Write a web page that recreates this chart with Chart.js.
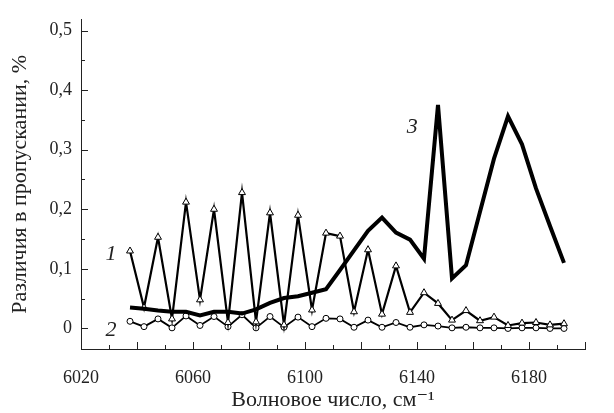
<!DOCTYPE html>
<html>
<head>
<meta charset="utf-8">
<script src="https://cdn.jsdelivr.net/npm/chart.js@4.4.1/dist/chart.umd.min.js"></script>
<style>
  html, body { margin: 0; padding: 0; background: #fff; }
  #wrap { width: 614px; height: 413px; }
</style>
</head>
<body>
<div id="wrap"><canvas id="transmissionChart" width="614" height="413"></canvas></div>
<script>
// wavenumber of every measured point, cm^-1
const wavenumbers = [
  6037.5, 6042.5, 6047.5, 6052.5, 6057.5, 6062.5, 6067.5, 6072.5,
  6077.5, 6082.5, 6087.5, 6092.5, 6097.5, 6102.5, 6107.5, 6112.5,
  6117.5, 6122.5, 6127.5, 6132.5, 6137.5, 6142.5, 6147.5, 6152.5,
  6157.5, 6162.5, 6167.5, 6172.5, 6177.5, 6182.5, 6187.5, 6192.5,
];

// curve 1 (triangles)
const curve1 = [
  0.130, 0.035, 0.153, 0.016, 0.212, 0.048, 0.200, 0.010,
  0.228, 0.011, 0.194, 0.006, 0.190, 0.031, 0.160, 0.155,
  0.028, 0.132, 0.024, 0.105, 0.027, 0.060, 0.042, 0.014,
  0.030, 0.013, 0.019, 0.005, 0.009, 0.010, 0.006, 0.008,
];

// curve 2 (circles)
const curve2 = [
  0.012, 0.003, 0.016, 0.001, 0.021, 0.005, 0.020, 0.003,
  0.023, 0.001, 0.020, 0.002, 0.019, 0.003, 0.017, 0.016,
  0.002, 0.014, 0.002, 0.010, 0.002, 0.006, 0.004, 0.001,
  0.002, 0.001, 0.001, 0.000, 0.001, 0.001, 0.000, 0.000,
];

// curve 3 (thick line)
const curve3 = [
  0.035, 0.033, 0.030, 0.028, 0.028, 0.022, 0.028, 0.028,
  0.025, 0.032, 0.043, 0.051, 0.054, 0.060, 0.066, 0.098,
  0.131, 0.164, 0.186, 0.161, 0.149, 0.117, 0.375, 0.084,
  0.106, 0.196, 0.285, 0.356, 0.309, 0.235, 0.172, 0.110,
];

const xTicks = [6020, 6030, 6040, 6050, 6060, 6070, 6080, 6090, 6100, 6110,
  6120, 6130, 6140, 6150, 6160, 6170, 6180, 6190, 6200];
const xTickLabels = ["6020", "", "", "", "6060", "", "", "", "6100", "",
  "", "", "6140", "", "", "", "6180", "", ""];

const yTicks = [0, 0.05, 0.1, 0.15, 0.2, 0.25, 0.3, 0.35, 0.4, 0.45, 0.5];
const yTickLabels = ["0", "", "0,1", "", "0,2", "", "0,3", "", "0,4", "", "0,5"];

// curve numbers, placed in data units
const curveNames = ["1", "2", "3"];
const curveNameX = [6030.7, 6030.7, 6138.3];
const curveNameY = [0.125, -0.003, 0.337];

const serif = "'Liberation Serif', 'DejaVu Serif', serif";

function toPoints(ys) {
  return ys.map((y, i) => ({ x: wavenumbers[i], y: y }));
}

// small tick marks pointing into the plot, plus the curve numbers
const innerTicks = {
  id: "innerTicks",
  afterDatasetsDraw(chart) {
    const { ctx, chartArea } = chart;
    const xs = chart.scales.x;
    const ys = chart.scales.y;
    ctx.save();
    ctx.strokeStyle = "#222";
    ctx.lineWidth = 1;
    xs.ticks.forEach((t, i) => {
      const px = Math.round(xs.getPixelForValue(t.value)) + 0.5;
      const len = i % 2 == 0 ? 7 : 4;
      ctx.beginPath();
      ctx.moveTo(px, chartArea.bottom);
      ctx.lineTo(px, chartArea.bottom - len);
      ctx.stroke();
    });
    ys.ticks.forEach((t, i) => {
      const py = Math.round(ys.getPixelForValue(t.value)) + 0.5;
      const len = i % 2 == 0 ? 7 : 4;
      ctx.beginPath();
      ctx.moveTo(chartArea.left, py);
      ctx.lineTo(chartArea.left + len, py);
      ctx.stroke();
    });

    ctx.fillStyle = "#222";
    ctx.font = "italic 22px " + serif;
    ctx.textAlign = "center";
    ctx.textBaseline = "middle";
    curveNames.forEach((name, i) => {
      ctx.fillText(name, xs.getPixelForValue(curveNameX[i]), ys.getPixelForValue(curveNameY[i]));
    });
    ctx.restore();
  },
};

const chart = new Chart(document.getElementById("transmissionChart"), {
  type: "line",
  data: {
    datasets: [
      {
        label: "3",
        data: toPoints(curve3),
        borderColor: "#000",
        borderWidth: 4,
        pointRadius: 0,
        tension: 0,
      },
      {
        label: "1",
        data: toPoints(curve1),
        borderColor: "#000",
        borderWidth: 2.2,
        pointStyle: "triangle",
        pointRadius: 4,
        pointBackgroundColor: "#fff",
        pointBorderColor: "#000",
        pointBorderWidth: 1,
        tension: 0,
      },
      {
        label: "2",
        data: toPoints(curve2),
        borderColor: "#000",
        borderWidth: 1.8,
        pointStyle: "circle",
        pointRadius: 3,
        pointBackgroundColor: "#fff",
        pointBorderColor: "#000",
        pointBorderWidth: 1,
        tension: 0,
      },
    ],
  },
  options: {
    responsive: false,
    animation: false,
    events: [],
    layout: { padding: { left: 0, right: 29, top: 13, bottom: 0 } },
    plugins: {
      legend: { display: false },
      tooltip: { enabled: false },
    },
    scales: {
      x: {
        type: "linear",
        min: 6020,
        max: 6200,
        afterBuildTicks: (scale) => {
          scale.ticks = xTicks.map((v) => ({ value: v }));
        },
        afterFit: (scale) => {
          scale.height = 64;
        },
        grid: { display: false, drawTicks: false },
        border: { display: true, color: "#222", width: 1 },
        ticks: {
          autoSkip: false,
          maxRotation: 0,
          padding: 18,
          color: "#222",
          font: { family: serif, size: 18 },
          callback: (v, i) => xTickLabels[i],
        },
        title: {
          display: true,
          text: "Волновое число, см⁻¹",
          color: "#222",
          font: { family: serif, size: 22 },
          padding: { top: 0, bottom: 0 },
        },
      },
      y: {
        type: "linear",
        min: -0.0345,
        max: 0.518,
        afterBuildTicks: (scale) => {
          scale.ticks = yTicks.map((v) => ({ value: v }));
        },
        afterFit: (scale) => {
          scale.width = 81;
        },
        grid: { display: false, drawTicks: false },
        border: { display: true, color: "#222", width: 1 },
        ticks: {
          autoSkip: false,
          padding: 9,
          color: "#222",
          font: { family: serif, size: 18 },
          callback: (v, i) => yTickLabels[i],
        },
        title: {
          display: true,
          text: "Различия в пропускании, %",
          color: "#222",
          font: { family: serif, size: 22 },
          padding: { top: 7, bottom: 0 },
        },
      },
    },
  },
  plugins: [innerTicks],
});
</script>
</body>
</html>
